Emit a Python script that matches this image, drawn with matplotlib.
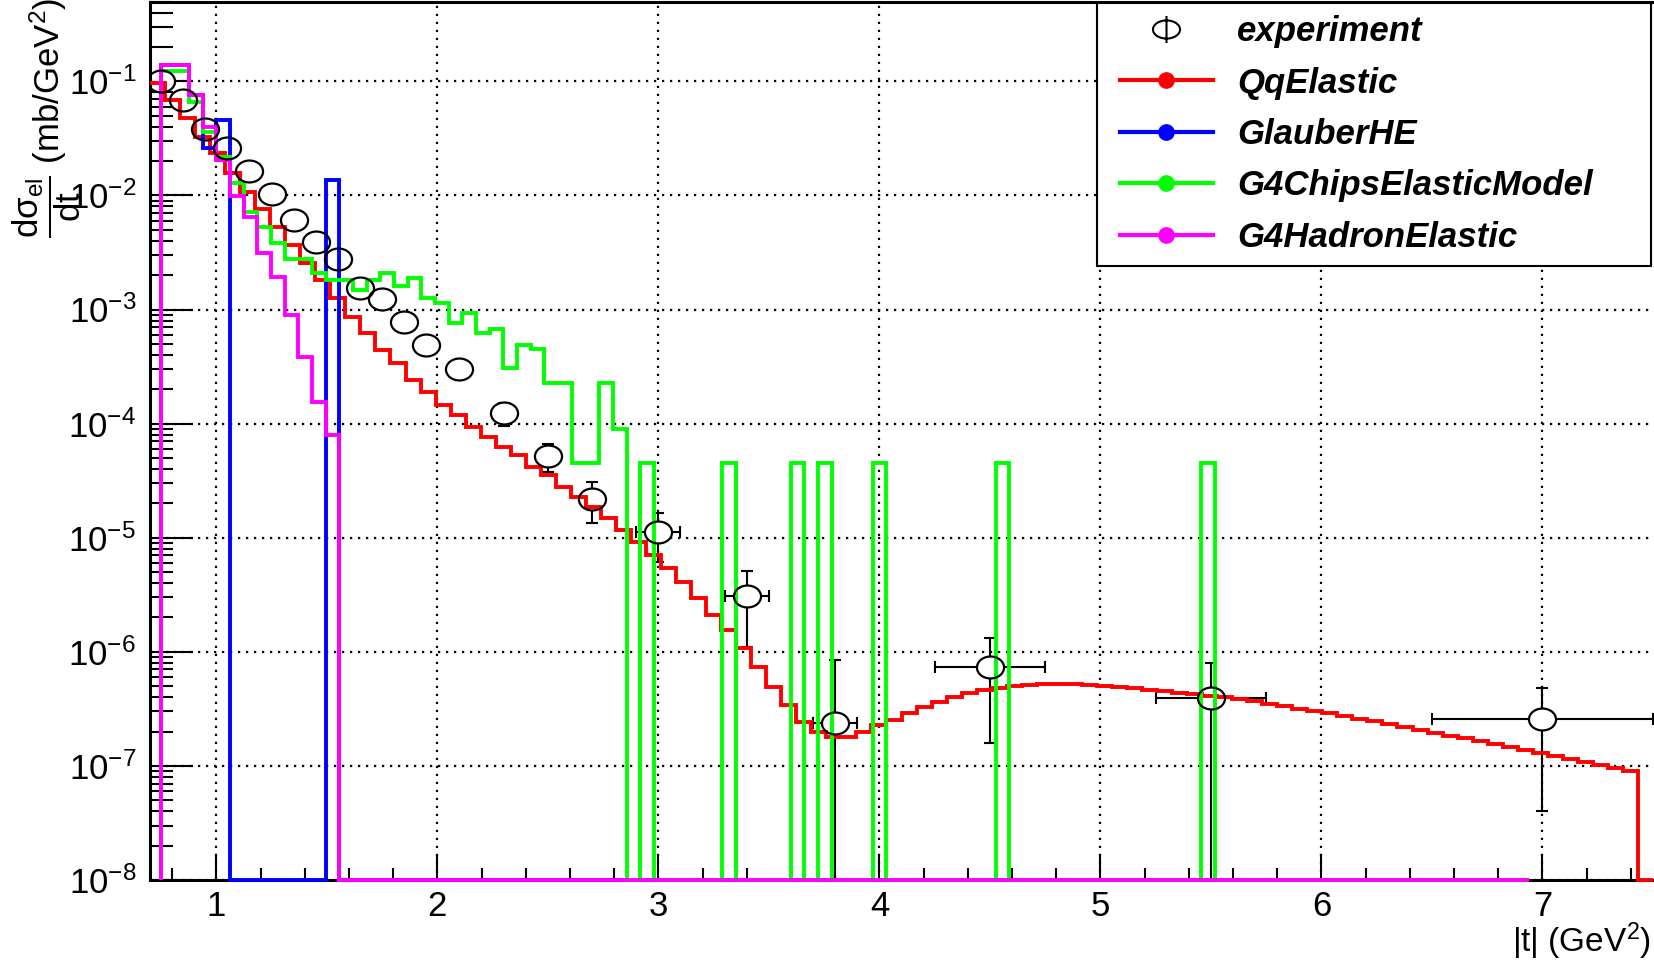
import numpy as np
import matplotlib
matplotlib.use("Agg")
import matplotlib.pyplot as plt
from matplotlib.path import Path
from matplotlib.lines import Line2D
from matplotlib.legend_handler import HandlerLine2D
from matplotlib.ticker import LogLocator, MultipleLocator, NullFormatter

plt.rcParams["font.family"] = ["Liberation Sans", "DejaVu Sans"]
plt.rcParams["mathtext.fontset"] = "custom"
plt.rcParams["mathtext.rm"] = "Liberation Sans"
plt.rcParams["mathtext.it"] = "Liberation Sans:italic"
plt.rcParams["mathtext.bf"] = "Liberation Sans:bold"
plt.rcParams["mathtext.default"] = "regular"

# binning of the model histograms
qq_range = (0.7, 7.5)
qq_nbins = 100
g4_range = (0.752, 6.94)
g4_nbins = 100

# QqElastic, d(sigma)/dt per bin (mb/GeV^2)
qq_vals = [
    9.7e-2, 6.9e-2, 4.8e-2, 3.25e-2, 2.35e-2, 1.57e-2, 1.07e-2, 7.6e-3, 5.3e-3, 3.7e-3,
    2.55e-3, 1.8e-3, 1.26e-3, 8.6e-4, 6.2e-4, 4.4e-4, 3.4e-4, 2.4e-4, 1.9e-4, 1.46e-4,
    1.19e-4, 9.3e-5, 7.6e-5, 6.2e-5, 5.3e-5, 4.2e-5, 3.55e-5, 2.8e-5, 2.27e-5, 1.86e-5,
    1.49e-5, 1.17e-5, 9.2e-6, 7.1e-6, 5.4e-6, 4.1e-6, 2.96e-6, 2.1e-6, 1.55e-6, 1.08e-6,
    7.4e-7, 4.9e-7, 3.42e-7, 2.43e-7, 1.98e-7, 1.79e-7, 1.79e-7, 1.98e-7, 2.28e-7, 2.52e-7,
    2.9e-7, 3.28e-7, 3.63e-7, 4.02e-7, 4.36e-7, 4.63e-7, 4.82e-7, 5.0e-7, 5.1e-7, 5.2e-7,
    5.2e-7, 5.2e-7, 5.1e-7, 5.0e-7, 4.9e-7, 4.82e-7, 4.63e-7, 4.54e-7, 4.36e-7, 4.27e-7,
    4.1e-7, 4.02e-7, 3.86e-7, 3.7e-7, 3.49e-7, 3.35e-7, 3.15e-7, 3.03e-7, 2.9e-7, 2.74e-7,
    2.58e-7, 2.47e-7, 2.33e-7, 2.19e-7, 2.06e-7, 1.94e-7, 1.83e-7, 1.75e-7, 1.65e-7, 1.56e-7,
    1.47e-7, 1.38e-7, 1.3e-7, 1.22e-7, 1.15e-7, 1.08e-7, 1.02e-7, 9.6e-8, 9.0e-8, 0.0,
]

# GlauberHE
glauber_vals = [0.139, 0.139, 0.076, 0.0259, 0.0457] + [0.0] * 7 + [0.0136] + [0.0] * 87

# G4ChipsElasticModel
chips_vals = [
    0.124, 0.124, 0.066, 0.0361, 0.0218, 0.0129, 0.0072, 0.0053, 0.00385, 0.0028,
    0.0028, 0.00208, 0.00181, 0.00181, 0.00148, 0.00181, 0.0021, 0.00161, 0.00188, 0.00125,
    0.00113, 7.6e-4, 9.3e-4, 6.2e-4, 6.8e-4, 3.1e-4, 4.9e-4, 4.5e-4, 2.25e-4, 2.25e-4,
    4.5e-5, 4.5e-5, 2.25e-4, 9.0e-5,
    0.0, 4.5e-5, 0.0, 0.0, 0.0, 0.0, 0.0, 4.5e-5, 0.0, 0.0, 0.0, 0.0, 4.5e-5, 0.0, 4.5e-5,
    0.0, 0.0, 0.0, 4.5e-5, 0.0, 0.0, 0.0, 0.0, 0.0, 0.0, 0.0, 0.0, 4.5e-5,
] + [0.0] * 14 + [4.5e-5] + [0.0] * 23

# G4HadronElastic
hadron_vals = [0.139, 0.139, 0.076, 0.040, 0.0204, 0.0098, 0.0065, 0.0031, 0.00194,
               8.95e-4, 3.85e-4, 1.56e-4, 7.9e-5] + [0.0] * 87

# experiment
exp_t = [0.75, 0.85, 0.95, 1.05, 1.15, 1.25, 1.35, 1.45, 1.55, 1.65, 1.75, 1.85,
         1.95, 2.1, 2.3, 2.5, 2.7, 3.0, 3.4, 3.8, 4.5, 5.5, 7.0]
exp_sig = [1.0e-1, 6.9e-2, 3.8e-2, 2.6e-2, 1.64e-2, 1.03e-2, 6.1e-3, 3.9e-3, 2.8e-3,
           1.53e-3, 1.24e-3, 7.7e-4, 4.9e-4, 3.0e-4, 1.23e-4, 5.2e-5, 2.2e-5, 1.13e-5,
           3.1e-6, 2.4e-7, 7.4e-7, 3.9e-7, 2.6e-7]
exp_dt = [0.05] * 17 + [0.1, 0.1, 0.1, 0.25, 0.25, 0.5]
exp_dsig = [5e-3, 3.5e-3, 1.9e-3, 1.3e-3, 8e-4, 5e-4, 3e-4, 2e-4, 1.4e-4, 8e-5, 6e-5,
            4e-5, 2.5e-5, 2.5e-5, 2.8e-5, 1.4e-5, 8.5e-6, 5.2e-6, 2.0e-6, 6.0e-7,
            5.8e-7, 4.0e-7, 2.2e-7]

labels = ["experiment", "QqElastic", "GlauberHE", "G4ChipsElasticModel", "G4HadronElastic"]
colors = ["#ff0000", "#0000ff", "#00ff00", "#ff00ff"]

ylo, yhi = 1e-8, 0.5

fig = plt.figure(figsize=(16.54, 9.6), dpi=100)
ax = fig.add_axes([150 / 1654, 80 / 960, 1503 / 1654, 878.4 / 960])
ax.set_yscale("log")
ax.set_xlim(*qq_range)
ax.set_ylim(ylo, yhi)

qq_edges = np.linspace(qq_range[0], qq_range[1], qq_nbins + 1)
g4_edges = np.linspace(g4_range[0], g4_range[1], g4_nbins + 1)

# empty bins sit on the bottom of the frame, like ROOT does
hists = [(qq_vals, qq_edges, None), (glauber_vals, g4_edges, ylo),
         (chips_vals, g4_edges, ylo), (hadron_vals, g4_edges, ylo)]
for (vals, edges, base), c in zip(hists, colors):
    v = np.maximum(np.array(vals), ylo)
    ax.stairs(v, edges, baseline=base, color=c, lw=2.8, zorder=3, clip_on=False)

# elliptic open marker
circ = Path.unit_circle()
ell = Path(circ.vertices * [1.0, 0.81], circ.codes)

t = np.array(exp_t)
s = np.array(exp_sig)
ds = np.array(exp_dsig)
low = np.minimum(ds, s - ylo)
ax.errorbar(t, s, xerr=exp_dt, yerr=[low, ds], fmt="none", ecolor="black",
            elinewidth=1.5, capsize=4, capthick=1.5, zorder=2)
ax.plot(t, s, ls="none", marker=ell, ms=19.5, mfc="white", mec="none", zorder=2.5)
ax.plot(t, s, ls="none", marker=ell, ms=19.5, mfc="none", mec="black", mew=1.6, zorder=4)

# axes styling
ax.xaxis.set_major_locator(MultipleLocator(1))
ax.xaxis.set_minor_locator(MultipleLocator(0.2))
ax.yaxis.set_major_locator(LogLocator(base=10, numticks=20))
ax.yaxis.set_minor_locator(LogLocator(base=10, subs=np.arange(2, 10), numticks=20))
ax.yaxis.set_minor_formatter(NullFormatter())
ax.tick_params(axis="x", which="major", direction="in", length=19, width=1.5, pad=7, labelsize=25)
ax.tick_params(axis="x", which="minor", direction="in", length=9, width=1.5)
ax.tick_params(axis="y", which="major", direction="in", length=31, width=1.5, pad=10, labelsize=25)
ax.tick_params(axis="y", which="minor", direction="in", length=16.5, width=1.5)
ax.grid(True, which="major", color="black", linestyle=(0, (1, 2.6)), linewidth=1.6, zorder=1)
ax.set_axisbelow(True)
for side in ["left", "bottom", "top"]:
    ax.spines[side].set_linewidth(2.2)
ax.spines["right"].set_visible(False)

fig.text(47 / 1654, 1 - 238 / 960, r"$\dfrac{d\sigma_{el}}{dt}$ (mb/GeV$^{2}$)",
         rotation=90, ha="center", va="bottom", fontsize=25)
fig.text(1651 / 1654, 8 / 960, r"|t| (GeV$^{2}$)", ha="right", va="baseline", fontsize=24)

# legend
phi = Path.make_compound_path(Path(circ.vertices * [1.0, 0.67], circ.codes),
                              Path([(0, -1), (0, 1)], [Path.MOVETO, Path.LINETO]))
handles = [Line2D([], [], ls="none", marker=phi, ms=19.5, mec="black", mfc="none",
                  fillstyle="none", mew=1.5)]
for c in colors:
    handles.append(Line2D([], [], color=c, lw=3, marker="o", ms=11, mec=c, mfc=c))
leg = ax.legend(handles, labels, loc="upper left",
                bbox_to_anchor=(1097 / 1654, 0, 554 / 1654, 1 - 3 / 960),
                bbox_transform=fig.transFigure, mode="expand",
                handler_map={Line2D: HandlerLine2D(xpad=0.3)},
                prop=dict(family="Liberation Sans", weight="bold", style="italic", size=25),
                frameon=True, fancybox=False, edgecolor="black", framealpha=1,
                borderpad=0.35, labelspacing=0.53, handlelength=2.99,
                handletextpad=0.69, borderaxespad=0)
leg.get_frame().set_linewidth(1.5)
leg.set_zorder(6)

fig.savefig("out.png", dpi=100)
